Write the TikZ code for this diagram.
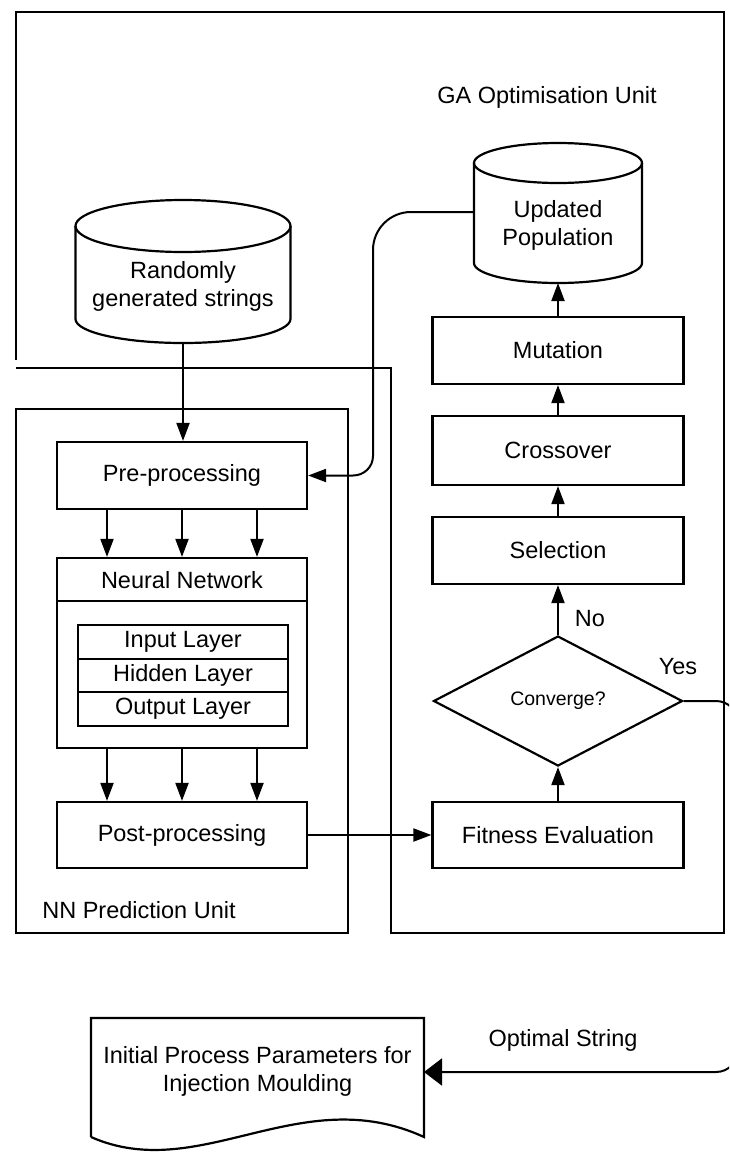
\documentclass[tikz,border=0pt]{standalone}
\usepackage{fontspec}
\setmainfont{Liberation Sans}
\usetikzlibrary{arrows.meta,shapes.geometric}
\begin{document}
\begin{tikzpicture}[x=1pt,y=-1pt,
  line width=2pt,
  txt/.style={font=\fontsize{23.5}{28}\selectfont, align=center},
  box/.style={txt, draw, line width=2.2pt, minimum width=251pt, minimum height=67pt, inner sep=0pt},
  ghost/.style={txt, inner sep=0pt, outer sep=0pt},
  arr/.style={-{Triangle[length=18pt,width=13pt]}, line width=2pt},
  bigarr/.style={-{Triangle[length=18pt,width=27pt]}, line width=2pt}]

\fill[white] (0,0) rectangle (729,1152);
\useasboundingbox (0,0) rectangle (729,1152);

% GA optimisation unit outline
\draw[line width=2.4pt] (16,360) -- (16,12) -- (724,12) -- (724,933) -- (391,933) -- (391,368) -- (16,368);
\node[txt] (gat) at (547,97) {GA Optimisation Unit};

% NN prediction unit outline
\node[draw, line width=2.2pt, minimum width=332pt, minimum height=524pt, inner sep=0pt] (nnunit) at (182,671) {};
\node[txt, anchor=west] (nnl) at (38,910) {NN Prediction Unit};

% Randomly generated strings cylinder
\draw[line width=2.2pt, fill=white] (75.5,226) -- (75.5,319)
  arc[start angle=180, end angle=360, x radius=107.5pt, y radius=24pt] -- (290.5,226)
  arc[start angle=0, end angle=180, x radius=107.5pt, y radius=26pt];
\draw[line width=2.2pt] (75.5,226) arc[start angle=180, end angle=360, x radius=107.5pt, y radius=26pt];
\node[ghost, minimum width=215pt, minimum height=114pt] (rand) at (183,286) {Randomly\\generated strings};

% Updated population cylinder
\draw[line width=2.2pt, fill=white] (474,163) -- (474,263)
  arc[start angle=180, end angle=360, x radius=84pt, y radius=20pt] -- (642,163)
  arc[start angle=0, end angle=180, x radius=84pt, y radius=20pt];
\draw[line width=2.2pt] (474,163) arc[start angle=180, end angle=360, x radius=84pt, y radius=20pt];
\node[ghost, minimum width=168pt, minimum height=116pt] (pop) at (558,225) {Updated\\Population};

% NN column
\node[box, minimum width=250pt] (pre) at (182,475.5) {Pre-processing};
\node[draw, line width=2.2pt, minimum width=250pt, minimum height=190pt, inner sep=0pt] (nn) at (182,653) {};
\node[txt] (nnt) at (182,580) {Neural Network};
\draw[line width=2pt] ([yshift=-44pt]nn.north west) -- ([yshift=-44pt]nn.north east);
\node[draw, txt, line width=2pt, minimum width=210pt, minimum height=33.67pt, inner sep=0pt] (inl) at (183,641.8) {Input Layer};
\node[draw, txt, line width=2pt, minimum width=210pt, minimum height=33.67pt, inner sep=0pt] (hidl) at (183,675.5) {Hidden Layer};
\node[draw, txt, line width=2pt, minimum width=210pt, minimum height=33.67pt, inner sep=0pt] (outl) at (183,709.2) {Output Layer};
\node[box, minimum width=250pt, minimum height=66pt] (post) at (182,835) {Post-processing};

% GA column
\node[box] (mut) at (558,350.5) {Mutation};
\node[box, minimum height=69pt] (cross) at (558,450.5) {Crossover};
\node[box] (sel) at (558,550.5) {Selection};
\node[diamond, draw, line width=2.2pt, minimum width=249pt, minimum height=130pt, inner sep=0pt,
      font=\fontsize{19.5}{23}\selectfont] (dia) at (558,701) {Converge?};
\node[box, minimum height=66pt] (fit) at (558,835) {Fitness Evaluation};

\node[txt] (no) at (590,619) {No};
\node[txt] (yes) at (678,667) {Yes};
\node[txt] (opt) at (563,1040) {Optimal String};

% Output document
\node[ghost, minimum width=333pt, minimum height=106pt] (doc) at (257.5,1071) {Initial Process Parameters for\\Injection Moulding};
\draw[line width=2.2pt] (91,1137) -- (91,1018) -- (424,1018) -- (424,1137)
  .. controls (300,1080) and (200,1185) .. (91,1137);

% connectors
\draw[arr] (rand.south) -- (rand.south |- pre.north);
\foreach \dx in {-75,0,75} {
  \draw[arr] ([xshift=\dx pt]pre.south) -- ([xshift=\dx pt]nn.north);
  \draw[arr] ([xshift=\dx pt]nn.south) -- ([xshift=\dx pt]post.north);
}
\draw[arr] (post.east) -- (fit.west);
\draw[arr] (fit.north) -- (dia.south);
\draw[arr] (dia.north) -- (sel.south);
\draw[arr] (sel.north) -- (cross.south);
\draw[arr] (cross.north) -- (mut.south);
\draw[arr] (mut.north) -- (pop.south);
\draw[arr] ([yshift=13pt]pop.west) -- (411,212) .. controls (390,212) and (373,229) .. (373,250)
  -- (373,456) .. controls (373,467) and (364,475.5) .. (353,475.5) -- (pre.east);
\begin{scope}
  \clip (0,0) rectangle (729,1152);
  \draw[bigarr, rounded corners=22pt] (dia.east) -- (738,701) -- (738,1072) -- (doc.east |- 0,1072);
\end{scope}
\end{tikzpicture}
\end{document}
